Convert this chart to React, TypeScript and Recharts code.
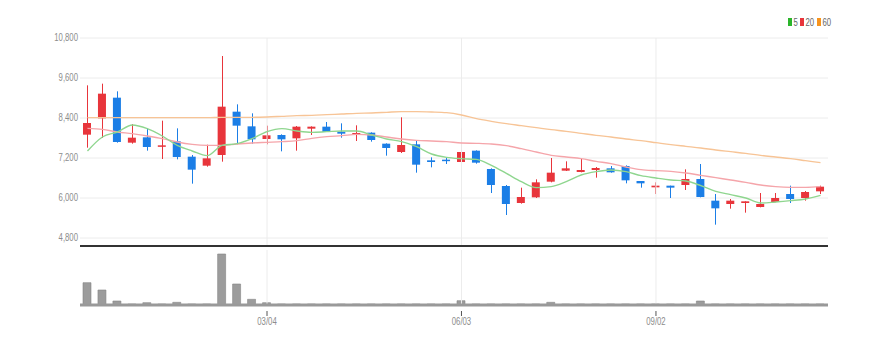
import { Bar, CartesianGrid, ComposedChart, Line, ReferenceLine, XAxis, YAxis } from "recharts";

const dates = [
  "12/11", "12/18", "12/25", "01/01", "01/08", "01/15", "01/22", "01/29", "02/05", "02/12",
  "02/19", "02/26", "03/04", "03/11", "03/18", "03/25", "04/01", "04/08", "04/15", "04/22",
  "04/29", "05/06", "05/13", "05/20", "05/27", "06/03", "06/10", "06/17", "06/24", "07/01",
  "07/08", "07/15", "07/22", "07/29", "08/05", "08/12", "08/19", "08/26", "09/02", "09/09",
  "09/16", "09/23", "09/30", "10/07", "10/14", "10/21", "10/28", "11/04", "11/11", "11/18",
];

const opens = [
  7900, 8390, 9010, 7660, 7820, 7540, 7700, 7240, 6970, 7290,
  8590, 8150, 7770, 7890, 7790, 8080, 8140, 7990, 7890, 7960,
  7630, 7380, 7610, 7130, 7150, 7080, 7420, 6870, 6360, 5850,
  6020, 6490, 6820, 6780, 6840, 6890, 6960, 6510, 6320, 6370,
  6390, 6570, 5920, 5820, 5850, 5730, 5880, 6120, 6000, 6200,
];
const highs = [
  9380, 9430, 9200, 8220, 8100, 8320, 8090, 7290, 7600, 10260,
  8810, 8540, 8170, 7910, 8160, 8150, 8280, 8240, 8180, 7970,
  7640, 8420, 7740, 7220, 7220, 8090, 7430, 6890, 6390, 6310,
  6560, 7200, 7100, 7180, 6930, 6960, 6980, 6510, 6470, 6370,
  6860, 7020, 6120, 5970, 5900, 6150, 6150, 6370, 6210, 6370,
];
const lows = [
  7510, 7800, 7660, 7630, 7420, 7170, 7160, 6430, 6940, 7090,
  7610, 7630, 7610, 7400, 7420, 7890, 7980, 7810, 7710, 7690,
  7270, 7350, 6760, 6920, 7020, 7080, 7030, 6150, 5490, 5830,
  6000, 6470, 6810, 6770, 6610, 6760, 6440, 6310, 6120, 6000,
  6240, 6020, 5200, 5680, 5560, 5720, 5870, 5850, 5920, 6120,
];
const closes = [
  8250, 9130, 7680, 7810, 7530, 7580, 7230, 6850, 7190, 8740,
  8170, 7760, 7880, 7760, 8140, 8140, 7980, 7930, 7950, 7740,
  7500, 7590, 7000, 7080, 7110, 7380, 7060, 6390, 5820, 6030,
  6470, 6760, 6890, 6840, 6900, 6770, 6530, 6440, 6370, 6310,
  6570, 6030, 5690, 5920, 5900, 5820, 6000, 5970, 6180, 6340,
];

const ma5 = [
  7410, 7830, 7980, 8190, 8080, 7860, 7580, 7410, 7270, 7580,
  7630, 7780, 7990, 8080, 8010, 7970, 7990, 8010, 8010, 7890,
  7770, 7690, 7540, 7320, 7220, 7180, 7160, 6980, 6740, 6490,
  6310, 6340, 6490, 6690, 6790, 6840, 6790, 6670, 6600, 6540,
  6510, 6370, 6200, 6100, 6000, 5850, 5880, 5920, 5970, 6080,
];
const ma20 = [
  8090, 8060, 7980, 7930, 7860, 7780, 7680, 7610, 7580, 7580,
  7620, 7650, 7670, 7690, 7720, 7790, 7840, 7870, 7910, 7890,
  7830, 7770, 7730, 7710, 7690, 7650, 7640, 7620, 7570, 7480,
  7380, 7280, 7230, 7180, 7100, 7030, 6930, 6850, 6820, 6800,
  6750, 6680, 6610, 6540, 6470, 6390, 6340, 6320, 6320, 6340,
];
const ma60 = [
  8410, 8410, 8410, 8410, 8410, 8410, 8410, 8410, 8410, 8420,
  8420, 8420, 8430, 8450, 8470, 8480, 8500, 8520, 8540, 8550,
  8570, 8590, 8590, 8580, 8560, 8490, 8380, 8300, 8230, 8170,
  8110, 8050, 8000, 7940, 7880, 7830, 7770, 7720, 7660, 7600,
  7550, 7500, 7440, 7390, 7340, 7280, 7230, 7180, 7120, 7060,
];

const volumes = [
  446, 300, 80, 20, 46, 20, 54, 20, 20, 1020,
  420, 114, 46, 20, 20, 20, 20, 20, 20, 20,
  20, 20, 20, 20, 20, 86, 20, 20, 20, 20,
  20, 54, 20, 20, 20, 20, 20, 20, 20, 20,
  20, 80, 20, 20, 20, 20, 20, 20, 20, 20,
];

const priceTicks = [4800, 6000, 7200, 8400, 9600, 10800];
const dateTicks = ["03/04", "06/03", "09/02"];

const data = dates.map((date, i) => ({
  date,
  open: opens[i],
  high: highs[i],
  low: lows[i],
  close: closes[i],
  ma5: ma5[i],
  ma20: ma20[i],
  ma60: ma60[i],
  volume: volumes[i],
}));

const RED = "#e8353b";
const BLUE = "#1b7ee6";
const FONT = "'Liberation Sans', Arial, sans-serif";
const SQUEEZE = 0.74;

function Candle(props: any) {
  const { x, y, width, height, payload } = props;
  if (!payload) return null;
  const { open, close, high, low } = payload;
  const color = close >= open ? RED : BLUE;
  const top = height < 0 ? y + height : y;
  const h = Math.abs(height);
  const k = h / (high - low);
  const yo = top + (high - open) * k;
  const yc = top + (high - close) * k;
  const bodyTop = Math.min(yo, yc);
  const bodyH = Math.max(Math.abs(yo - yc), 1.5);
  const cx = Math.round(x + width / 2) + 0.5;
  return (
    <g>
      <line x1={cx} x2={cx} y1={top} y2={top + h} stroke={color} strokeWidth={1} />
      <rect x={x} y={bodyTop} width={width} height={bodyH} fill={color} />
    </g>
  );
}

function NarrowText({ x, y, anchor, children, fill = "#8c8c8c", size = 10.5 }: any) {
  return (
    <text
      transform={`translate(${x},${y}) scale(${SQUEEZE},1)`}
      textAnchor={anchor}
      fill={fill}
      fontSize={size}
      fontFamily={FONT}
      dominantBaseline="central"
    >
      {children}
    </text>
  );
}

function PriceTick({ x, y, payload }: any) {
  return (
    <NarrowText x={x + 6} y={y} anchor="end">
      {Number(payload.value).toLocaleString("en-US")}
    </NarrowText>
  );
}

function DateTick({ x, y, payload }: any) {
  if (!dateTicks.includes(payload.value)) return null;
  return (
    <g>
      <line x1={x} x2={x} y1={y - 2} y2={y + 3} stroke="#555" strokeWidth={1} />
      <NarrowText x={x} y={y + 9} anchor="middle">
        {payload.value}
      </NarrowText>
    </g>
  );
}

function LegendBox() {
  const items = [
    { label: "5", color: "#2bb52b", x: 788 },
    { label: "20", color: "#e8353b", x: 800 },
    { label: "60", color: "#f7941d", x: 817 },
  ];
  return (
    <svg width={886} height={40} style={{ position: "absolute", left: 0, top: 0 }}>
      {items.map((item) => (
        <g key={item.label}>
          <rect x={item.x} y={18} width={4} height={8} fill={item.color} />
          <NarrowText x={item.x + 5.5} y={22.5} anchor="start" fill="#666" size={10.5}>
            {item.label}
          </NarrowText>
        </g>
      ))}
    </svg>
  );
}

export default function App() {
  return (
    <div style={{ position: "absolute", left: 0, top: 0, width: 886, height: 343, background: "#fff" }}>
      <LegendBox />
      <div style={{ position: "absolute", left: 0, top: 0 }}>
        <ComposedChart width={886} height={248} data={data} margin={{ top: 38, right: 58, left: 20, bottom: 2 }}>
          <CartesianGrid stroke="#ececec" vertical={false} />
          <XAxis dataKey="date" height={0} tick={false} tickLine={false} axisLine={false} />
          <YAxis
            domain={[4560, 10800]}
            ticks={priceTicks}
            width={60}
            axisLine={false}
            tickLine={false}
            tick={<PriceTick />}
          />
          {dateTicks.map((d) => (
            <ReferenceLine key={d} x={d} stroke="#ececec" />
          ))}
          <Line type="monotone" dataKey="ma60" stroke="#f7c496" strokeWidth={1.4} dot={false} isAnimationActive={false} />
          <Line type="monotone" dataKey="ma20" stroke="#f5a5aa" strokeWidth={1.4} dot={false} isAnimationActive={false} />
          <Line type="monotone" dataKey="ma5" stroke="#8fd68f" strokeWidth={1.4} dot={false} isAnimationActive={false} />
          <Bar dataKey={(d: any) => [d.low, d.high]} barSize={8} shape={<Candle />} isAnimationActive={false} />
          <ReferenceLine y={4560} stroke="#333" strokeWidth={2} />
        </ComposedChart>
      </div>
      <div style={{ position: "absolute", left: 0, top: 248 }}>
        <ComposedChart width={886} height={95} data={data} margin={{ top: 2, right: 58, left: 80, bottom: 0 }}>
          {dateTicks.map((d) => (
            <ReferenceLine key={d} x={d} stroke="#ececec" />
          ))}
          <XAxis
            dataKey="date"
            height={38}
            interval={0}
            tickLine={false}
            axisLine={{ stroke: "#999", strokeWidth: 3 }}
            tick={<DateTick />}
          />
          <YAxis hide domain={[0, 1100]} />
          <Bar dataKey="volume" barSize={8} fill="#9c9c9c" stroke="#858585" strokeWidth={0.6} isAnimationActive={false} />
        </ComposedChart>
      </div>
    </div>
  );
}
